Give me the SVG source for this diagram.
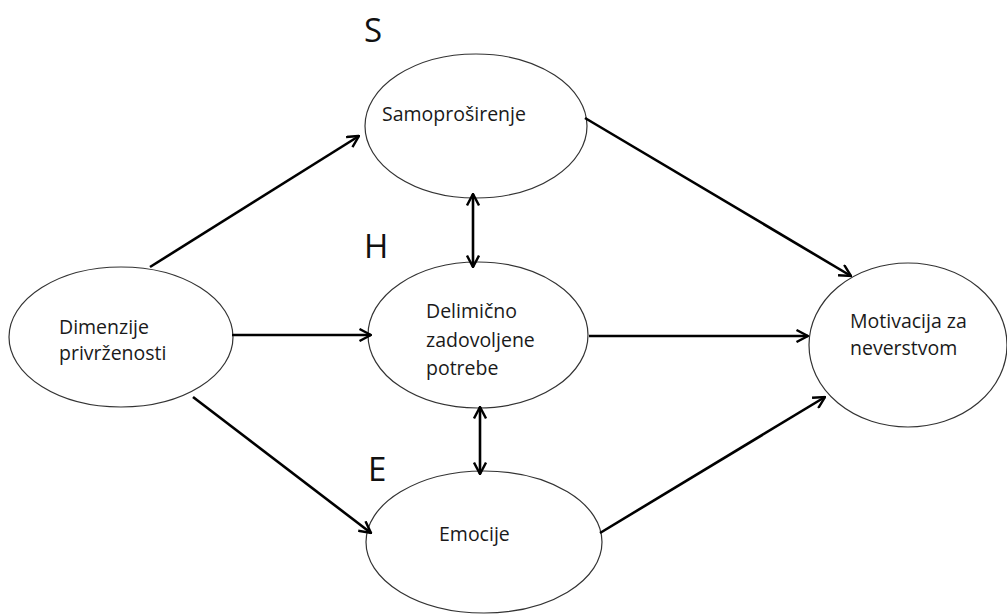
<svg xmlns="http://www.w3.org/2000/svg" width="1007" height="615" viewBox="0 0 1007 615">
<style>
.node ellipse{fill:#fff;stroke:#333;stroke-width:1.2}
.lbl{font-family:"Open Sans","Liberation Sans",sans-serif;font-size:19.5px;fill:#1a1a1a}
.big{font-family:"Open Sans","Liberation Sans",sans-serif;font-size:33px;fill:#111}
.edge{stroke:#000;stroke-width:2.6;fill:none}
</style>
<defs>
<marker id="ah" viewBox="0 0 14 14" refX="13" refY="7" markerWidth="14" markerHeight="14" orient="auto-start-reverse" markerUnits="userSpaceOnUse">
<path d="M1.5,1 L13,7 L1.5,13" fill="none" stroke="#000" stroke-width="2.4" stroke-linejoin="miter"/>
</marker>
</defs>
<rect width="1007" height="615" fill="#fff"/>
<g id="letters">
<text class="big" x="364" y="42">S</text>
<text class="big" x="364" y="258">H</text>
<text class="big" x="368" y="481">E</text>
</g>
<g id="node-dimenzije" class="node">
<ellipse cx="121" cy="337" rx="112" ry="70"/>
<text class="lbl" x="59" y="334">Dimenzije</text>
<text class="lbl" x="59" y="360">privrženosti</text>
</g>
<g id="node-samoprosirenje" class="node">
<ellipse cx="476" cy="126" rx="111" ry="72"/>
<text class="lbl" x="382" y="121">Samoproširenje</text>
</g>
<g id="node-delimicno" class="node">
<ellipse cx="478" cy="335" rx="110" ry="73"/>
<text class="lbl" x="426" y="318">Delimično</text>
<text class="lbl" x="426" y="347">zadovoljene</text>
<text class="lbl" x="426" y="375">potrebe</text>
</g>
<g id="node-motivacija" class="node">
<ellipse cx="908" cy="345" rx="99" ry="82"/>
<text class="lbl" x="850" y="328">Motivacija za</text>
<text class="lbl" x="850" y="355">neverstvom</text>
</g>
<g id="node-emocije" class="node">
<ellipse cx="484" cy="542" rx="118" ry="71"/>
<text class="lbl" x="439" y="541">Emocije</text>
</g>
<g id="connectors">
<line class="edge" x1="150" y1="267" x2="359" y2="136" marker-end="url(#ah)"/>
<line class="edge" x1="232" y1="335" x2="371" y2="335" marker-end="url(#ah)"/>
<line class="edge" x1="193" y1="397" x2="371" y2="533" marker-end="url(#ah)"/>
<line class="edge" x1="473" y1="194" x2="473" y2="267" marker-start="url(#ah)" marker-end="url(#ah)"/>
<line class="edge" x1="480" y1="407" x2="480" y2="474" marker-start="url(#ah)" marker-end="url(#ah)"/>
<line class="edge" x1="585" y1="118" x2="851" y2="276" marker-end="url(#ah)"/>
<line class="edge" x1="589" y1="336" x2="808" y2="336" marker-end="url(#ah)"/>
<line class="edge" x1="600" y1="533" x2="825" y2="397" marker-end="url(#ah)"/>
</g>
</svg>
